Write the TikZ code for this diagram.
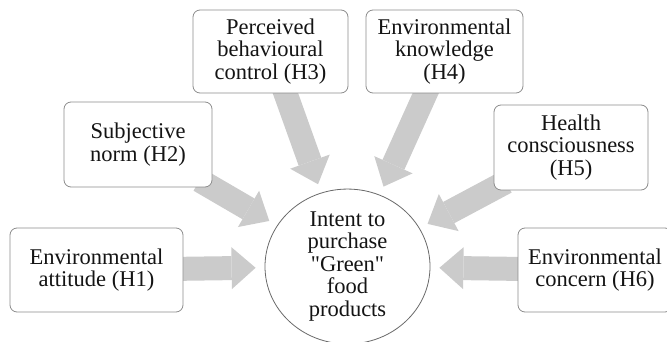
\documentclass[tikz,border=0pt]{standalone}
\usepackage{fontspec}
\setmainfont{Liberation Serif}[Ligatures=TeXOff]
\usetikzlibrary{arrows.meta,shapes.geometric,backgrounds}
\definecolor{boxline}{RGB}{140,140,140}
\definecolor{ringline}{RGB}{105,105,105}
\definecolor{arrowgray}{RGB}{203,203,203}
\definecolor{ink}{RGB}{20,20,20}
\begin{document}
\begin{tikzpicture}[x=1pt,y=-1pt,
  label font/.style={font=\fontsize{22.5}{22.5}\selectfont},
  factor/.style={draw=boxline, line width=0.8pt, rounded corners=7pt,
    fill=white, align=center, text=ink, label font, inner sep=0pt},
  outcome/.style={ellipse, draw=ringline, line width=0.8pt, fill=white,
    align=center, text=ink, label font, inner sep=0pt,
    minimum width=165pt, minimum height=147pt},
  flow/.style={draw=arrowgray, line width=24pt,
    -{Triangle[length=24pt,width=42pt,line width=0pt]},
    shorten >=9pt, shorten <=-14pt}
]
\useasboundingbox (0,0) rectangle (667,342);

% central construct
\node[outcome] (c) at (347.5,266.5)
  {Intent to\\purchase\\"Green"\\food\\products};

% hypothesised antecedents
\node[factor, minimum width=173pt, minimum height=84pt] (h1) at (96.5,270)
  {Environmental\\attitude (H1)};
\node[factor, minimum width=148pt, minimum height=85pt] (h2) at (138,144.5)
  {Subjective\\norm (H2)};
\node[factor, minimum width=155pt, minimum height=83pt] (h3) at (270.5,51.5)
  {Perceived\\behavioural\\control (H3)};
\node[factor, minimum width=157pt, minimum height=83pt] (h4) at (444.5,51.5)
  {Environmental\\knowledge\\(H4)};
\node[factor, minimum width=154pt, minimum height=85pt] (h5) at (571,147.5)
  {Health\\consciousness\\(H5)};
\node[factor, minimum width=154pt, minimum height=84pt] (h6) at (595,270)
  {Environmental\\concern (H6)};

% block arrows behind the boxes
\begin{pgfonlayer}{background}
  \foreach \src in {h1,h2,h3,h4,h5,h6}
    \draw[flow] (\src) -- (c);
\end{pgfonlayer}
\end{tikzpicture}
\end{document}
